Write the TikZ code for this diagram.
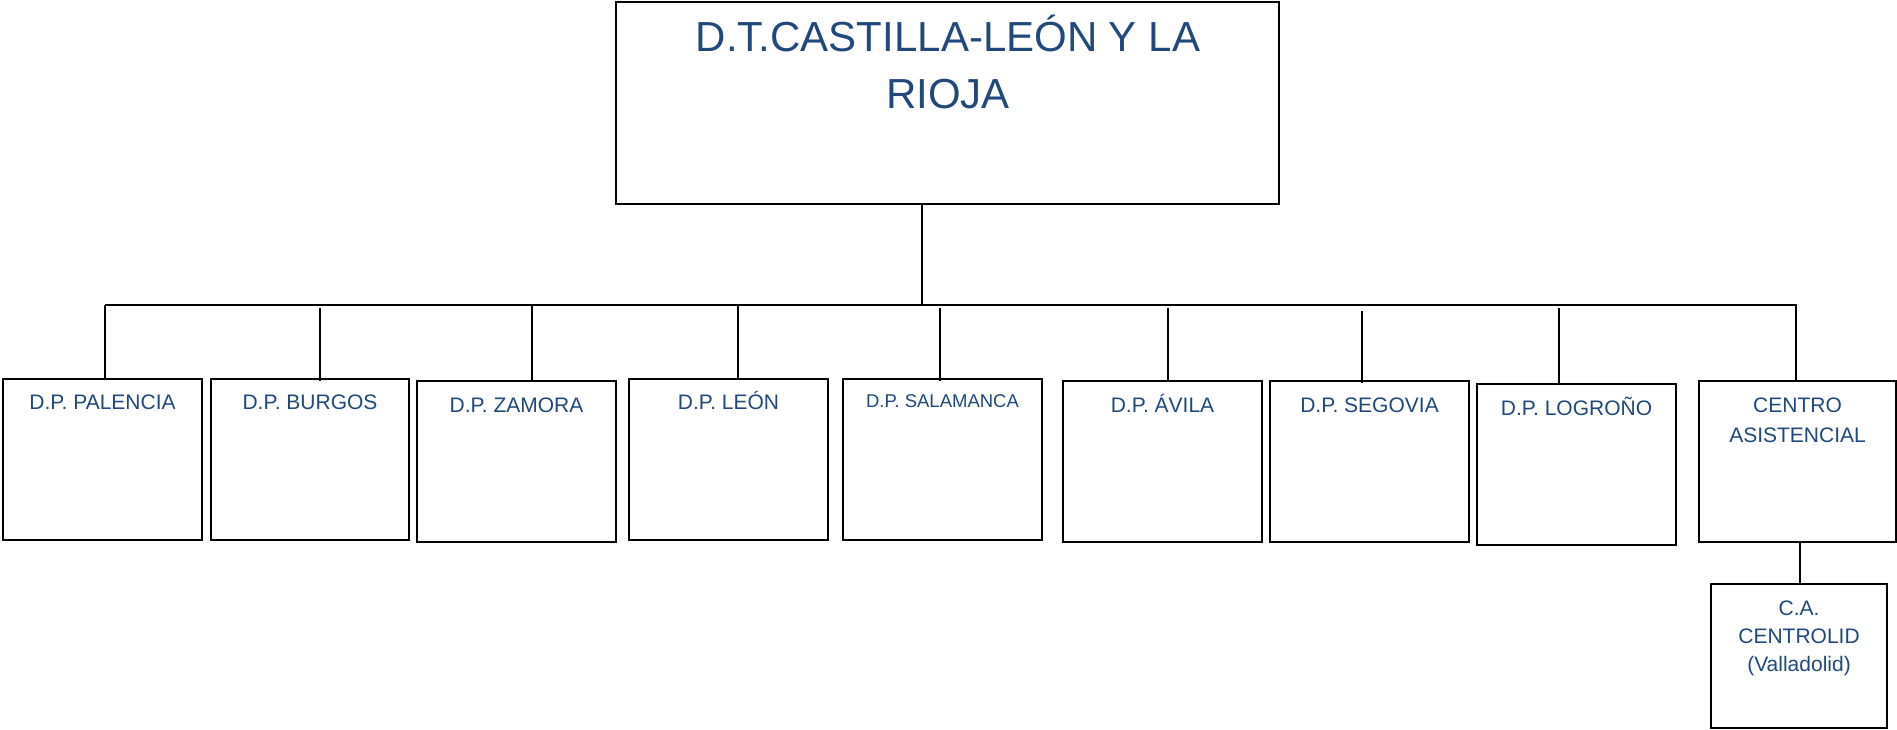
\documentclass[tikz,border=0pt]{standalone}
\usepackage{fontspec}
\setmainfont{Liberation Sans}
\definecolor{txtblue}{RGB}{31,73,125}
\tikzset{
  box/.style={draw=black, line width=2pt, rectangle, inner sep=0pt, fill=white},
  conn/.style={draw=black, line width=1.5pt},
  lbl/.style={text=txtblue, inner sep=0pt, anchor=base, font=\fontsize{21}{25}\selectfont},
  smalllbl/.style={lbl, font=\fontsize{18.5}{22}\selectfont},
  titlelbl/.style={lbl, font=\fontsize{42}{50}\selectfont},
}
\begin{document}
\begin{tikzpicture}[x=1pt,y=-1pt]
\useasboundingbox (0,0) rectangle (1897,729);
% boxes
\node[box, minimum width=663pt, minimum height=202pt] (top) at (947.5,103) {};
\node[box, minimum width=199pt, minimum height=161pt] (pal) at (102.5,459.5) {};
\node[box, minimum width=198pt, minimum height=161pt] (bur) at (310,459.5) {};
\node[box, minimum width=199pt, minimum height=161pt] (zam) at (516.5,461.5) {};
\node[box, minimum width=199pt, minimum height=161pt] (leo) at (728.5,459.5) {};
\node[box, minimum width=199pt, minimum height=161pt] (sal) at (942.5,459.5) {};
\node[box, minimum width=199pt, minimum height=161pt] (avi) at (1162.5,461.5) {};
\node[box, minimum width=199pt, minimum height=161pt] (seg) at (1369.5,461.5) {};
\node[box, minimum width=199pt, minimum height=161pt] (log) at (1576.5,464.5) {};
\node[box, minimum width=197pt, minimum height=161pt] (cen) at (1797.5,461.5) {};
\node[box, minimum width=176pt, minimum height=144pt] (ca) at (1799,656) {};
% texts
\node[titlelbl] (t1) at (948,51) {D.T.CASTILLA-LEÓN Y LA};
\node[titlelbl] (t2) at (948,108) {RIOJA};
\node[lbl] (tpal) at (102.5,409) {D.P. PALENCIA};
\node[lbl] (tbur) at (310,409) {D.P. BURGOS};
\node[lbl] (tzam) at (516.5,412) {D.P. ZAMORA};
\node[lbl] (tleo) at (728.5,409) {D.P. LEÓN};
\node[smalllbl] (tsal) at (942.5,407) {D.P. SALAMANCA};
\node[lbl] (tavi) at (1162.5,412) {D.P. ÁVILA};
\node[lbl] (tseg) at (1369.5,412) {D.P. SEGOVIA};
\node[lbl] (tlog) at (1576.5,415) {D.P. LOGROÑO};
\node[lbl] (tcen1) at (1797.5,412) {CENTRO};
\node[lbl] (tcen2) at (1797.5,442) {ASISTENCIAL};
\node[lbl] (tca1) at (1799,615) {C.A.};
\node[lbl] (tca2) at (1799,643) {CENTROLID};
\node[lbl] (tca3) at (1799,671) {(Valladolid)};
% bus coordinates
\coordinate (trunk) at (922,305);
\coordinate (busL) at (105,305);
\coordinate (busR) at (1797,305);
\coordinate (bpal) at (105,305);
\coordinate (bbur) at (320,308);
\coordinate (bzam) at (532,305);
\coordinate (bleo) at (738,305);
\coordinate (bsal) at (940,308);
\coordinate (bavi) at (1168,308);
\coordinate (bseg) at (1362,311);
\coordinate (blog) at (1559,308);
\coordinate (bcen) at (1796,305);
% connectors
\draw[conn] (trunk |- top.south) -- (trunk);
\draw[conn] (busL) -- (busR);
\draw[conn] (bpal) -- (bpal |- pal.north);
\draw[conn] (bbur) -- ([yshift=-3pt]bbur |- bur.north);
\draw[conn] (bzam) -- (bzam |- zam.north);
\draw[conn] (bleo) -- (bleo |- leo.north);
\draw[conn] (bsal) -- ([yshift=-3pt]bsal |- sal.north);
\draw[conn] (bavi) -- (bavi |- avi.north);
\draw[conn] (bseg) -- ([yshift=-3pt]bseg |- seg.north);
\draw[conn] (blog) -- (blog |- log.north);
\draw[conn] (bcen) -- (bcen |- cen.north);
\coordinate (cadrop) at (1800,0);
\draw[conn] (cadrop |- cen.south) -- (cadrop |- ca.north);
\end{tikzpicture}
\end{document}
